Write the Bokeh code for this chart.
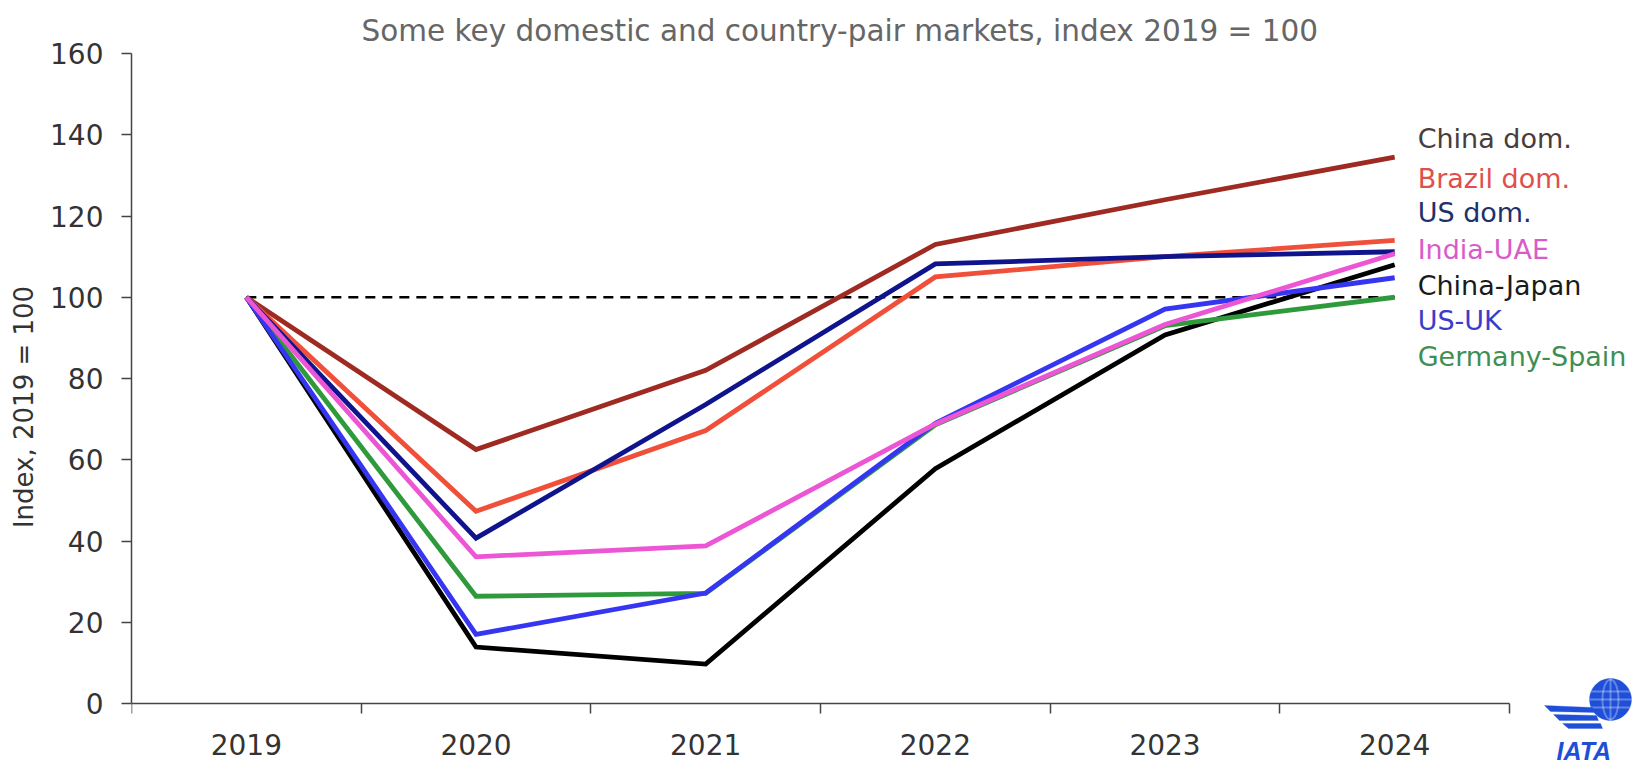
import math
from bokeh.plotting import figure
from bokeh.models import Range1d, FixedTicker, Label, PolyAnnotation
from bokeh.embed import file_html
from bokeh.resources import INLINE

# ---------------- data ----------------
years = [2019, 2020, 2021, 2022, 2023, 2024]
year_labels = ["2019", "2020", "2021", "2022", "2023", "2024"]
y_ticks = [0, 20, 40, 60, 80, 100, 120, 140, 160]

china_dom = [100, 62.5, 82, 113, 124, 134.5]
brazil_dom = [100, 47.3, 67.2, 105, 110, 114]
us_dom = [100, 40.7, 73.6, 108.2, 110, 111.2]
india_uae = [100, 36.1, 38.8, 68.8, 93.3, 110.7]
china_japan = [100, 13.9, 9.7, 57.8, 90.7, 108]
us_uk = [100, 17.0, 27.2, 69.0, 97.1, 104.8]
germany_spain = [100, 26.4, 27.1, 68.6, 93.0, 100]
baseline = 100

series_names = ["China dom.", "Brazil dom.", "US dom.", "India-UAE",
                "China-Japan", "US-UK", "Germany-Spain"]
series_values = [china_dom, brazil_dom, us_dom, india_uae,
                 china_japan, us_uk, germany_spain]

# ---------------- styles ----------------
line_colors = {"China dom.": "#9e2a22", "Brazil dom.": "#f0503a", "US dom.": "#10148c",
               "India-UAE": "#ec55d4", "China-Japan": "#000000", "US-UK": "#3636f2",
               "Germany-Spain": "#2e9a3c"}
label_colors = {"China dom.": "#4a3c3a", "Brazil dom.": "#e0504a", "US dom.": "#22306a",
                "India-UAE": "#d85cc8", "China-Japan": "#1a1a1a", "US-UK": "#3c3cc8",
                "Germany-Spain": "#3f8f55"}
label_x = 2024.10
label_y = [139.0, 129.3, 120.8, 111.7, 102.8, 94.2, 85.5]
draw_order = ["China dom.", "Brazil dom.", "US dom.", "China-Japan",
              "Germany-Spain", "US-UK", "India-UAE"]

FONT = "DejaVu Sans"

W, H = 1633, 760
LEFT, TOP, ZERO_Y = 131, 53, 703
PX_PER_YEAR = 229.67
PX_PER_UNIT = (ZERO_Y - TOP) / 160.0

x_end = 2018.5 + (W - LEFT) / PX_PER_YEAR
y_start = -(H - ZERO_Y) / PX_PER_UNIT

p = figure(width=W, height=H,
           x_range=Range1d(2018.5, x_end), y_range=Range1d(y_start, 160),
           output_backend="svg", toolbar_location=None,
           min_border_left=LEFT, min_border_right=0,
           min_border_top=TOP, min_border_bottom=0)

p.background_fill_color = "white"
p.border_fill_color = "white"
p.outline_line_color = None
p.grid.visible = False

p.title.text = "Some key domestic and country-pair markets, index 2019 = 100"
p.title.align = "left"
p.title.offset = 230
p.title.vertical_align = "middle"
p.title.text_font = FONT
p.title.text_font_size = "29.5px"
p.title.text_font_style = "normal"
p.title.text_color = "#666666"

# x axis
xa = p.xaxis[0]
xa.fixed_location = 0
xa.bounds = (2018.5, 2024.5)
xa.ticker = FixedTicker(ticks=years, minor_ticks=[y - 0.5 for y in years] + [years[-1] + 0.5])
xa.major_label_overrides = {y: l for y, l in zip(years, year_labels)}
xa.major_tick_out = 0
xa.major_tick_in = 0
xa.minor_tick_out = 10
xa.minor_tick_in = 0
xa.minor_tick_line_color = "#444444"
xa.minor_tick_line_width = 1.5
xa.axis_line_color = "#444444"
xa.axis_line_width = 1.5
xa.major_label_text_font = FONT
xa.major_label_text_font_size = "28px"
xa.major_label_text_color = "#333333"
xa.major_label_standoff = 20

# y axis
ya = p.yaxis[0]
ya.bounds = (0, 160)
ya.ticker = FixedTicker(ticks=y_ticks)
ya.major_tick_out = 10
ya.major_tick_in = 0
ya.minor_tick_out = 0
ya.minor_tick_in = 0
ya.major_tick_line_color = "#444444"
ya.major_tick_line_width = 1.5
ya.axis_line_color = "#444444"
ya.axis_line_width = 1.5
ya.major_label_text_font = FONT
ya.major_label_text_font_size = "28px"
ya.major_label_text_color = "#333333"
ya.major_label_standoff = 18
ya.axis_label = "Index, 2019 = 100"
ya.axis_label_text_font = FONT
ya.axis_label_text_font_size = "26px"
ya.axis_label_text_font_style = "normal"
ya.axis_label_text_color = "#333333"
ya.axis_label_standoff = 8

# baseline dashed
p.line(years, [baseline] * len(years), line_color="black", line_width=2.6, line_dash="10 7")

vals = dict(zip(series_names, series_values))
for name in draw_order:
    p.line(years, vals[name], line_color=line_colors[name], line_width=4.8,
           line_join="miter")

for name, ly in zip(series_names, label_y):
    p.add_layout(Label(x=label_x, y=ly, text=name, text_font=FONT, text_font_size="27px",
                       text_color=label_colors[name], text_baseline="middle",
                       text_align="left"))

# ---------------- IATA logo (decoration) ----------------
def px2d(px, py):
    return 2018.5 + (px - LEFT) / PX_PER_YEAR, (ZERO_Y - py) / PX_PER_UNIT

def poly(pts, **kw):
    xs, ys = zip(*[px2d(a, b) for a, b in pts])
    p.add_layout(PolyAnnotation(xs=list(xs), ys=list(ys), **kw))

BLUE = "#1f4fd8"
cx, cy, r = 1610, 699, 21
circ = [(cx + r * math.cos(t * math.pi / 30), cy + r * math.sin(t * math.pi / 30)) for t in range(60)]
poly(circ, fill_color=BLUE, fill_alpha=1, line_color=BLUE, line_width=1)
ell = [(cx + 8 * math.cos(t * math.pi / 30), cy + r * 0.95 * math.sin(t * math.pi / 30)) for t in range(60)]
poly(ell, fill_alpha=0, line_color="white", line_width=2)
poly([(cx, cy - r), (cx, cy + r)], fill_alpha=0, line_color="white", line_width=2)
for dy in (-8, 0, 8):
    hw = math.sqrt(max(r * r - dy * dy, 0))
    poly([(cx - hw, cy + dy), (cx + hw, cy + dy)], fill_alpha=0, line_color="white", line_width=2)
# wings
poly([(1544, 705), (1592, 707), (1594, 712), (1550, 711)], fill_color=BLUE, fill_alpha=1, line_color=BLUE)
poly([(1553, 714), (1596, 715), (1598, 720), (1559, 720)], fill_color=BLUE, fill_alpha=1, line_color=BLUE)
poly([(1562, 723), (1600, 723), (1602, 728), (1568, 728)], fill_color=BLUE, fill_alpha=1, line_color=BLUE)
lx, ly_ = px2d(1556, 750)
p.add_layout(Label(x=lx, y=ly_, text="IATA", text_font="Liberation Sans", text_font_size="25px",
                   text_font_style="bold italic", text_color=BLUE, text_baseline="alphabetic",
                   text_align="left"))

open("out.html", "w").write(file_html(p, INLINE))
